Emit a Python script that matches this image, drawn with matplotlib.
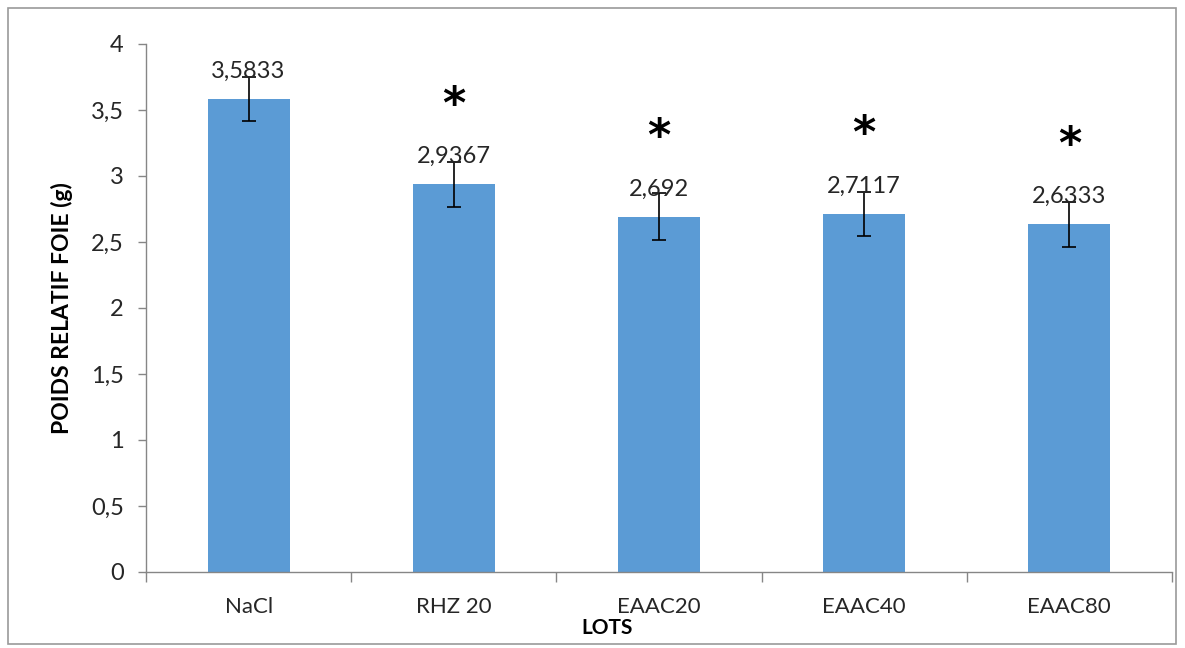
import matplotlib
matplotlib.use("Agg")
import matplotlib.pyplot as plt
from matplotlib.patches import Rectangle
from matplotlib.ticker import FuncFormatter

categories = ["NaCl", "RHZ 20", "EAAC20", "EAAC40", "EAAC80"]
values = [3.5833, 2.9367, 2.692, 2.7117, 2.6333]
errors = [0.17, 0.17, 0.18, 0.17, 0.17]
value_labels = ["3,5833", "2,9367", "2,692", "2,7117", "2,6333"]
significant = [False, True, True, True, True]

plt.rcParams["font.family"] = ["Lato", "DejaVu Sans"]

fig = plt.figure(figsize=(11.85, 6.48), dpi=100)
ax = fig.add_axes([0.1232, 0.1173, 0.8658, 0.8148])

bar_color = "#5B9BD5"
axis_color = "#868686"
text_color = "#262626"
x = list(range(len(categories)))
ax.bar(x, values, width=0.4, color=bar_color, zorder=2)
ax.errorbar(x, values, yerr=errors, fmt="none", ecolor="black",
            elinewidth=1.2, capsize=5, capthick=1.2, zorder=3)

for xi, v, lab, sig in zip(x, values, value_labels, significant):
    ax.text(xi, v + 0.21, lab, ha="center", va="center", fontsize=17,
            color=text_color, zorder=4)
    if sig:
        ax.text(xi, v + 0.60, "*", ha="center", va="center", fontsize=32,
                fontweight="bold", color="black", family="DejaVu Sans")

ax.set_xlim(-0.5, len(categories) - 0.5)
ax.set_ylim(0, 4)
ax.set_yticks([0, 0.5, 1, 1.5, 2, 2.5, 3, 3.5, 4])
ax.yaxis.set_major_formatter(FuncFormatter(
    lambda v, p: ("%g" % v).replace(".", ",")))
ax.set_xticks(x)
ax.set_xticklabels(categories, fontsize=16, color=text_color)
ax.set_xticks([i - 0.5 for i in range(len(categories) + 1)], minor=True)
ax.tick_params(axis="x", which="major", length=0, pad=18)
ax.tick_params(axis="x", which="minor", length=7, color=axis_color, width=1)
ax.tick_params(axis="y", length=6, color=axis_color, width=1,
               labelsize=17, labelcolor=text_color, pad=10)

for side in ("top", "right"):
    ax.spines[side].set_visible(False)
for side in ("left", "bottom"):
    ax.spines[side].set_color(axis_color)
    ax.spines[side].set_linewidth(1)

ax.set_ylabel("POIDS RELATIF FOIE (g)", fontsize=16.5, fontweight="bold",
              labelpad=13)
fig.text(0.512, 0.031, "LOTS", ha="center", va="center", fontsize=15,
         fontweight="bold")

fig.patches.append(Rectangle((8 / 1185, 4 / 648), 1168 / 1185, 636 / 648,
                             transform=fig.transFigure, fill=False,
                             edgecolor="#9a9a9a", linewidth=1.2))

fig.savefig("out.png", dpi=100)
